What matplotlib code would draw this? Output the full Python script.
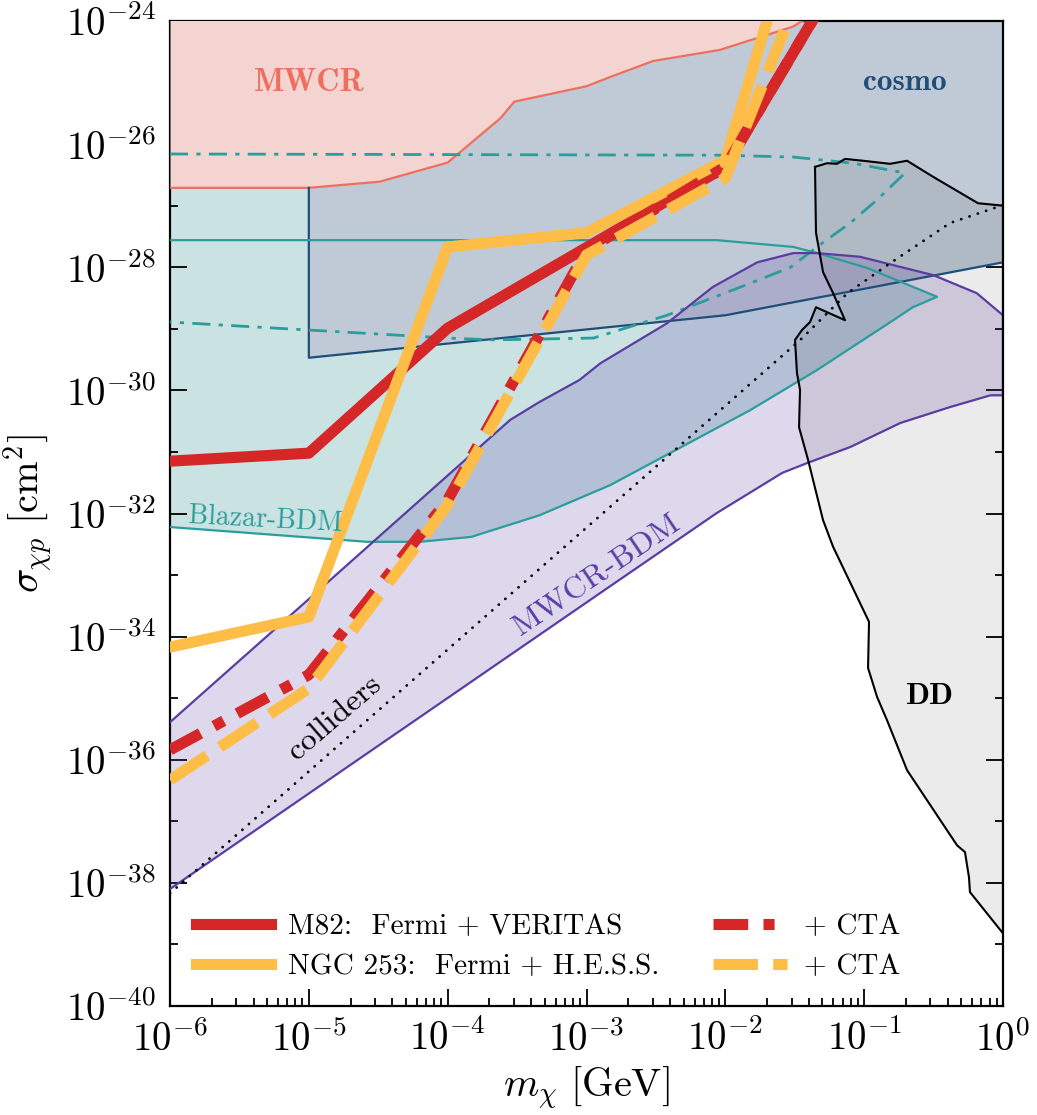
import numpy as np
import matplotlib
matplotlib.use("Agg")
import matplotlib.pyplot as plt
from matplotlib.ticker import FixedLocator, NullFormatter

plt.rcParams['font.family'] = 'cmr10'
plt.rcParams['mathtext.fontset'] = 'cm'
plt.rcParams['axes.formatter.use_mathtext'] = True
plt.rcParams['lines.scale_dashes'] = False

# ---- bounds (log10 of m_chi [GeV], log10 of sigma [cm^2]) ----
# MWCR (lower edge of the excluded band)
mwcr_x = [-6, -5, -4.49, -4, -3.62, -3.52, -3, -2.83, -2.52, -2.04, -1.51, -1.45, 0]
mwcr_y = [-26.71, -26.71, -26.61, -26.30, -25.58, -25.31, -25.06, -24.91, -24.65, -24.47, -24.09, -24.0, -23.0]

# cosmology
cosmo_x = [-5, -2, 0]
cosmo_y = [-29.47, -28.78, -27.92]

# Blazar-BDM, solid contour
blz_up_x = [-6, -2.06, -1.51, -1.34, -0.98, -0.475]
blz_up_y = [-27.56, -27.56, -27.67, -27.77, -28.01, -28.48]
blz_lo_x = [-0.475, -0.65, -0.79, -1.34, -1.82, -2.83, -3.34, -3.83, -4.20, -4.58, -6]
blz_lo_y = [-28.48, -28.65, -28.86, -29.67, -30.32, -31.54, -32.03, -32.38, -32.46, -32.46, -32.22]

# Blazar-BDM, dash-dot contour
blzd_up_x = [-6, -2.02, -1.51, -1.08, -0.706]
blzd_up_y = [-26.16, -26.18, -26.21, -26.31, -26.47]
blzd_lo_x = [-0.706, -0.91, -1.10, -1.34, -1.53, -1.82, -2.42, -2.95, -3.67, -4.0, -5, -6]
blzd_lo_y = [-26.47, -26.91, -27.28, -27.67, -28.0, -28.26, -28.78, -29.15, -29.18, -29.15, -29.02, -28.89]

# MWCR-BDM
bdm_up_x = [-6, -4.99, -3.55, -3.34, -3.05, -2.90, -2.42, -2.09, -1.77, -1.51, -1.34, -1.03, -0.50, -0.19, 0]
bdm_up_y = [-35.39, -33.37, -30.48, -30.19, -29.83, -29.56, -28.91, -28.32, -27.92, -27.77, -27.77, -27.83, -28.13, -28.42, -28.78]
bdm_lo_x = [0, -0.09, -0.38, -0.74, -1.10, -1.41, -1.59, -2.06, -2.90, -6]
bdm_lo_y = [-30.08, -30.08, -30.27, -30.53, -30.92, -31.18, -31.34, -31.99, -33.29, -38.10]

# colliders
col_x = [-6, -1.46, -1.12, -0.81, -0.38, 0]
col_y = [-38.17, -29.18, -28.42, -27.93, -27.28, -26.99]

# direct detection
dd_x = [-1.354, -1.268, -1.196, -1.138, -1.008, -0.814, -0.691, -0.504, -0.18, 0, 0,
        -0.238, -0.245, -0.274, -0.331, -0.691, -0.835, -0.907, -0.972, -0.965, -1.224,
        -1.296, -1.404, -1.469, -1.462, -1.484, -1.498, -1.448, -1.39, -1.347, -1.138,
        -1.224, -1.296, -1.347]
dd_y = [-26.37, -26.31, -26.32, -26.24, -26.27, -26.32, -26.27, -26.53, -26.96, -27.0, -38.82,
        -38.15, -37.91, -37.50, -37.39, -36.17, -35.36, -34.98, -34.51, -33.76, -32.54,
        -32.11, -31.13, -30.60, -29.99, -29.72, -29.18, -29.02, -28.89, -28.65, -28.86,
        -28.42, -28.08, -27.44]

# starburst galaxy limits
m82_x = [-6, -5, -4, -2, -1]
m82_y = [-31.15, -31.02, -28.99, -26.37, -22.58]
m82_cta_x = [-6, -5, -4, -3, -2, -1]
m82_cta_y = [-35.84, -34.62, -31.78, -27.72, -26.37, -22.58]
ngc_x = [-6, -5, -4, -3, -2, -1.5]
ngc_y = [-34.17, -33.68, -27.67, -27.44, -26.26, -22.5]
ngc_cta_x = [-6, -5, -4, -3, -2, -1.3]
ngc_cta_y = [-36.33, -34.84, -31.86, -27.80, -26.55, -22.6]


def p(a):
    return 10.0 ** np.asarray(a, dtype=float)


fig = plt.figure(figsize=(10.37, 11.15), dpi=100)
ax = fig.add_axes([170 / 1037, 1 - 1006 / 1115, 833 / 1037, 985 / 1115])
ax.set_xscale('log')
ax.set_yscale('log')

teal = '#2a9d9c'
navy = '#1f4e79'
salmon = '#ef6f5e'
purple = '#5b3ca3'
red = '#d62728'
yellow = '#fdbd47'

# filled regions
ax.fill(p(blz_up_x + blz_lo_x), p(blz_up_y + blz_lo_y), color='#cae2e2', lw=0, zorder=1)
ax.fill(p(blzd_up_x + blzd_lo_x), p(blzd_up_y + blzd_lo_y), color='#cae2e2', lw=0, zorder=1)
ax.fill(p([cosmo_x[0]] + cosmo_x + [0]), p([-23] + cosmo_y + [-23]), color='#c0cad6', lw=0, zorder=2)
ax.fill_between(p(mwcr_x), p(mwcr_y), 1e-23, color='#f4d4d0', lw=0, zorder=3)
ax.fill(p(bdm_up_x + bdm_lo_x), p(bdm_up_y + bdm_lo_y), color=purple, alpha=0.2, lw=0, zorder=4)
ax.fill(p(dd_x), p(dd_y), facecolor='black', alpha=0.08, lw=0, zorder=5)

# contours
ax.plot(p(mwcr_x), p(mwcr_y), color=salmon, lw=1.6, zorder=6)
ax.plot(p([cosmo_x[0]] + cosmo_x), p([mwcr_y[1]] + cosmo_y), color=navy, lw=1.6, zorder=6)
ax.plot(p(blz_up_x + blz_lo_x), p(blz_up_y + blz_lo_y), color=teal, lw=1.6, zorder=6)
ax.plot(p(blzd_up_x + blzd_lo_x), p(blzd_up_y + blzd_lo_y), color=teal, lw=2.0,
        dashes=(13, 6, 3, 6), zorder=6)
ax.plot(p(bdm_up_x + bdm_lo_x), p(bdm_up_y + bdm_lo_y), color=purple, lw=1.6, zorder=6)
ax.plot(p(dd_x + dd_x[:1]), p(dd_y + dd_y[:1]), color='black', lw=1.5, zorder=6)
ax.plot(p(col_x), p(col_y), color='black', lw=2.0, dashes=(0.1, 6.2),
        dash_capstyle='round', zorder=6)

# limits
l1, = ax.plot(p(m82_x), p(m82_y), color=red, lw=8, zorder=10,
              label='M82:  Fermi + VERITAS')
l2, = ax.plot(p(ngc_x), p(ngc_y), color=yellow, lw=8, zorder=11,
              label='NGC 253:  Fermi + H.E.S.S.')
l3, = ax.plot(p(m82_cta_x), p(m82_cta_y), color=red, lw=8, dashes=(25, 11, 8, 11),
              zorder=12, label='+ CTA')
l4, = ax.plot(p(ngc_cta_x), p(ngc_cta_y), color=yellow, lw=8, dashes=(32, 11),
              zorder=13, label='+ CTA')

# region labels
ax.text(1e-5, 1e-25, 'MWCR', color=salmon, fontsize=23, family='cmb10',
        ha='center', va='center', zorder=20)
ax.text(10 ** -0.706, 1e-25, 'cosmo', color=navy, fontsize=22.5, family='cmb10',
        ha='center', va='center', zorder=20)
ax.text(10 ** -0.526, 10 ** -34.98, 'DD', color='black', fontsize=22.5, family='cmb10',
        ha='center', va='center', zorder=20)
ax.text(10 ** -5.316, 10 ** -32.11, 'Blazar-BDM', color=teal, fontsize=20,
        ha='center', va='center', rotation=-3, rotation_mode='anchor', zorder=20)
ax.text(10 ** -4.81, 10 ** -35.32, 'colliders', color='black', fontsize=23,
        ha='center', va='center', rotation=41, rotation_mode='anchor', zorder=20)
ax.text(10 ** -2.924, 10 ** -33.0, 'MWCR-BDM', color=purple, fontsize=23,
        ha='center', va='center', rotation=34, rotation_mode='anchor', zorder=20)

ax.set_xlim(1e-6, 1)
ax.set_ylim(1e-40, 1e-24)

decades_x = np.arange(-6, 1)
ax.xaxis.set_major_locator(FixedLocator(p(decades_x)))
ax.xaxis.set_minor_locator(FixedLocator(
    (np.arange(2, 10)[None, :] * p(decades_x[:-1])[:, None]).ravel()))
ax.xaxis.set_minor_formatter(NullFormatter())
ax.yaxis.set_major_locator(FixedLocator(p(np.arange(-40, -23, 2))))
ax.yaxis.set_minor_locator(FixedLocator(p(np.arange(-39, -24, 2))))
ax.yaxis.set_minor_formatter(NullFormatter())

ax.tick_params(which='both', direction='in', top=True, right=True, width=1.3)
ax.tick_params(which='major', length=12, labelsize=28, pad=10)
ax.tick_params(which='minor', length=6)
for s in ax.spines.values():
    s.set_linewidth(1.6)

ax.set_xlabel(r'$m_\chi\ [\mathrm{GeV}]$', fontsize=29, labelpad=4)
ax.set_ylabel(r'$\sigma_{\chi p}\ [\mathrm{cm}^2]$', fontsize=29, labelpad=8)

ax.legend(handles=[l1, l2, l3, l4], ncol=2, frameon=False, fontsize=21,
          loc='lower left', bbox_to_anchor=(0.0, 0.0), handlelength=2.55,
          handletextpad=0.6, columnspacing=1.82, labelspacing=0.45)

fig.savefig('out.png', dpi=100)
